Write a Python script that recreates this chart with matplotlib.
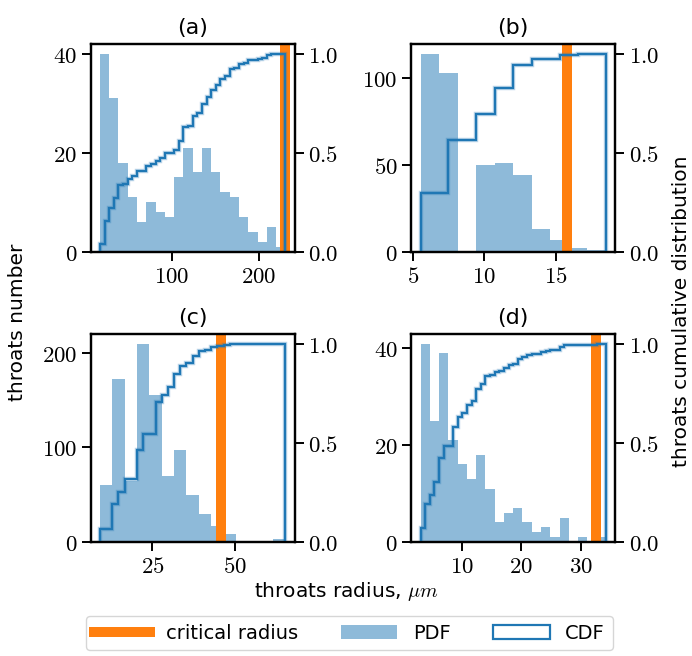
import numpy as np
import matplotlib
matplotlib.use('Agg')
import matplotlib.pyplot as plt
from matplotlib.patches import Patch
from matplotlib.ticker import FuncFormatter

plt.rcParams['font.family'] = 'DejaVu Sans'
plt.rcParams['mathtext.fontset'] = 'cm'
plt.rcParams['font.size'] = 14

titles = ['(a)', '(b)', '(c)', '(d)']

# radius range of each sample, um
r_min = [17.3, 5.54, 9.13, 2.97]
r_max = [230.1, 18.52, 65.2, 34.28]

# critical radius of each sample, um
r_crit = [230.1, 15.82, 45.8, 32.6]

# throats number per bin (PDF)
pdf_a = [40, 31, 18, 11, 6, 10, 8, 7, 15, 21, 16, 21, 16, 12, 11, 7, 4, 2, 5, 1]
pdf_b = [114, 103, 0, 50, 51, 44, 13, 7, 2, 1]
pdf_c = [60, 173, 64, 210, 155, 70, 97, 50, 29, 17, 8, 0, 0, 0, 3]
pdf_d = [41, 25, 39, 21, 16, 13, 18, 11, 4, 6, 7, 4, 2, 3, 1, 5, 0, 1, 0, 1]

# cumulative distribution (bins twice as fine)
cdf_a = [0.039, 0.153, 0.219, 0.271, 0.339, 0.340, 0.366, 0.382, 0.405, 0.405,
         0.433, 0.443, 0.460, 0.473, 0.497, 0.500, 0.511, 0.557, 0.629, 0.637,
         0.686, 0.698, 0.747, 0.779, 0.818, 0.840, 0.872, 0.885, 0.920, 0.927,
         0.945, 0.954, 0.966, 0.969, 0.975, 0.977, 0.992, 0.996, 1.0, 1.0]
cdf_b = [0.296, 0.296, 0.296, 0.564, 0.564, 0.564, 0.694, 0.694, 0.826, 0.826,
         0.940, 0.940, 0.974, 0.974, 0.974, 0.992, 0.992, 0.997, 0.997, 1.0]
cdf_c = [0.064, 0.064, 0.190, 0.249, 0.317, 0.317, 0.464, 0.542, 0.542, 0.707,
         0.742, 0.782, 0.847, 0.886, 0.902, 0.939, 0.961, 0.970, 0.983, 0.988,
         0.995, 0.997, 0.997, 0.997, 0.997, 0.997, 0.997, 0.997, 0.997, 1.0]
cdf_d = [0.067, 0.188, 0.236, 0.303, 0.425, 0.482, 0.482, 0.578, 0.632, 0.651,
         0.691, 0.711, 0.771, 0.794, 0.835, 0.844, 0.858, 0.862, 0.877, 0.890,
         0.897, 0.922, 0.933, 0.940, 0.950, 0.950, 0.960, 0.963, 0.968, 0.968,
         0.983, 0.991, 0.991, 0.991, 0.995, 0.995, 0.995, 0.995, 1.0, 1.0]

pdfs = [pdf_a, pdf_b, pdf_c, pdf_d]
cdfs = [cdf_a, cdf_b, cdf_c, cdf_d]

xticks = [[100, 200], [5, 10, 15], [25, 50], [10, 20, 30]]
yticks = [[0, 20, 40], [0, 50, 100], [0, 100, 200], [0, 20, 40]]
cdf_ticks = [0, 0.5, 1.0]

fig, axes = plt.subplots(2, 2, figsize=(6.92, 6.56), dpi=100)
fig.subplots_adjust(left=0.131, right=0.889, bottom=0.1742, top=0.9334,
                    wspace=0.572, hspace=0.394)

num_fmt = FuncFormatter(lambda v, p: '$%g$' % v)
cdf_fmt = FuncFormatter(lambda v, p: '$%.1f$' % v)

for i, ax in enumerate(axes.flat):
    pdf = pdfs[i]
    cdf = cdfs[i]
    e_pdf = np.linspace(r_min[i], r_max[i], len(pdf) + 1)
    e_cdf = np.linspace(r_min[i], r_max[i], len(cdf) + 1)

    ax.axvline(r_crit[i], color='C1', lw=7.2, label='critical radius')
    ax.stairs(pdf, e_pdf, fill=True, color='C0', alpha=0.5, lw=0, label='PDF')

    ax2 = ax.twinx()
    ax2.stairs(cdf, e_cdf, color='C0', alpha=0.3, lw=3.2)
    ax2.stairs(cdf, e_cdf, color='C0', lw=1.6)

    ax.set_xticks(xticks[i])
    ax.set_yticks(yticks[i])
    ax2.set_yticks(cdf_ticks)
    ax.xaxis.set_major_formatter(num_fmt)
    ax.yaxis.set_major_formatter(num_fmt)
    ax2.yaxis.set_major_formatter(cdf_fmt)
    for a in (ax, ax2):
        a.tick_params(length=6.3, width=1.4, labelsize=16.5)
        for s in a.spines.values():
            s.set_linewidth(1.6)
    ax.set_title(titles[i], fontsize=16, pad=7)

    if i == 0:
        handles, labels = ax.get_legend_handles_labels()

# CDF legend entry: open box
handles.append(Patch(facecolor='white', edgecolor='C0', lw=1.6))
labels.append('CDF')

fig.text(0.026, 0.509, 'throats number', rotation=90, ha='center', va='center', fontsize=14.5)
fig.text(0.985, 0.526, 'throats cumulative distribution', rotation=90,
         ha='center', va='center', fontsize=14.5)
fig.text(0.5, 0.0976, 'throats radius, $\\mu m$', ha='center', va='center', fontsize=14.5)

fig.legend(handles, labels, loc='center', bbox_to_anchor=(0.505, 0.035), ncol=3,
           fontsize=14, handlelength=2.9, handletextpad=0.8, columnspacing=2.2)

fig.savefig('out.png', dpi=100)
